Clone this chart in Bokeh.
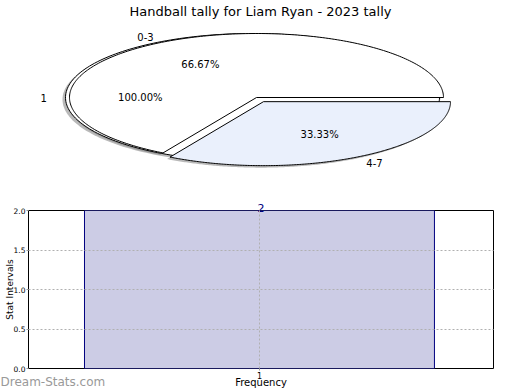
import numpy as np
from bokeh.plotting import figure
from bokeh.layouts import column
from bokeh.models import Range1d, FixedTicker, Title, Label, PrintfTickFormatter
from bokeh.core.properties import value
from bokeh.embed import file_html
from bokeh.resources import INLINE

# ---------------- data ----------------
chart_title = "Handball tally for Liam Ryan - 2023 tally"
outer_labels = ["1"]
outer_values = [1]
inner_labels = ["0-3", "4-7"]
inner_values = [2, 1]
bar_categories = [1]
bar_values = [2]
bar_value_labels = ["2"]
y_ticks = [0.0, 0.5, 1.0, 1.5, 2.0]
x_ticks = [1]
watermark = "Dream-Stats.com"

# ---------------- style ----------------
FONT = "DejaVu Sans"
W = 520
H_TOP = 178
H_BOT = 212
LEFT, RIGHT = 28, 27
outer_colors = ["#ffffff"]
inner_colors = ["#ffffff", "#eaf0fc"]
outer_explode = [0.0]
inner_explode = [0.0, 0.075]

# ---------------- pie figure (pixel-like coordinates, y grows downward) ----------------
pie = figure(width=W, height=H_TOP, x_range=Range1d(LEFT, W - RIGHT), y_range=Range1d(H_TOP, 0),
             output_backend="svg", toolbar_location=None,
             min_border_left=LEFT, min_border_right=RIGHT, min_border_top=0, min_border_bottom=0,
             x_axis_location=None, y_axis_location=None)
pie.grid.visible = False
pie.outline_line_color = None

RX, RY = 187.0, 64.0
SHADOW_DX, SHADOW_DY = -3.0, 2.0


def wedges(cx, cy, values, explode):
    total = float(sum(values))
    start = 0.0
    out = []
    for v, ex in zip(values, explode):
        frac = v / total
        a0, a1 = start, start + 2 * np.pi * frac
        start = a1
        mid = 0.5 * (a0 + a1)
        ox = cx + ex * RX * np.cos(mid)
        oy = cy - ex * RY * np.sin(mid)
        th = np.linspace(a0, a1, 240)
        xs = ox + RX * np.cos(th)
        ys = oy - RY * np.sin(th)
        if frac < 0.9999:
            xs = np.concatenate([[ox], xs])
            ys = np.concatenate([[oy], ys])
        out.append((xs, ys, ox, oy, mid, frac))
    return out


outer = wedges(252.0, 97.0, outer_values, outer_explode)
inner = wedges(256.0, 97.0, inner_values, inner_explode)

for xs, ys, *_ in outer + inner:
    pie.patch(xs + SHADOW_DX, ys + SHADOW_DY, fill_color="#7f7f7f", fill_alpha=0.55,
              line_color=None)

for (xs, ys, ox, oy, mid, frac), col in zip(outer, outer_colors):
    pie.patch(xs, ys, fill_color=col, line_color="black", line_width=1)
for (xs, ys, ox, oy, mid, frac), col in zip(inner, inner_colors):
    pie.patch(xs, ys, fill_color=col, line_color="black", line_width=1)


def pie_texts(ws, labels):
    for (xs, ys, ox, oy, mid, frac), lab in zip(ws, labels):
        lx = ox + 1.1 * RX * np.cos(mid)
        ly = oy - 1.1 * RY * np.sin(mid)
        align = "left" if np.cos(mid) > 0 else "right"
        pie.text(x=[lx], y=[ly], text=[lab], text_font=value(FONT), text_font_size="10px",
                 text_align=align, text_baseline="middle", text_color="black")
        px = ox + 0.6 * RX * np.cos(mid)
        py = oy - 0.6 * RY * np.sin(mid)
        pie.text(x=[px], y=[py], text=["%.2f%%" % (frac * 100)], text_font=value(FONT),
                 text_font_size="10px", text_align="center", text_baseline="middle",
                 text_color="black")


pie_texts(outer, outer_labels)
pie_texts(inner, inner_labels)

pie.text(x=[W / 2], y=[11], text=[chart_title], text_font=value(FONT), text_font_size="13px",
         text_align="center", text_baseline="middle", text_color="black")

# ---------------- bar figure ----------------
bar = figure(width=W, height=H_BOT, x_range=Range1d(0.472, 1.535), y_range=Range1d(0, 2),
             output_backend="svg", toolbar_location=None,
             min_border_left=LEFT, min_border_right=RIGHT, min_border_top=32, min_border_bottom=21)
bar.vbar(x=bar_categories, top=bar_values, width=0.8, fill_color="#ccccE5",
         line_color="#000080", line_width=1)

bar.outline_line_color = "black"
bar.outline_line_width = 1

for g in (bar.xgrid, bar.ygrid):
    g.grid_line_color = "#b0b0b0"
    g.grid_line_dash = "2 2"
    g.level = "overlay"
bar.ygrid.ticker = FixedTicker(ticks=y_ticks)
bar.xgrid.ticker = FixedTicker(ticks=x_ticks)

bar.yaxis.ticker = FixedTicker(ticks=y_ticks)
bar.yaxis.formatter = PrintfTickFormatter(format="%.1f")
bar.xaxis.ticker = FixedTicker(ticks=x_ticks)
for ax in (bar.xaxis, bar.yaxis):
    ax.axis_line_color = None
    ax.major_tick_in = 0
    ax.major_tick_out = 2
    ax.major_tick_line_color = "#999999"
    ax.minor_tick_line_color = None
    ax.major_label_text_font = FONT
    ax.major_label_text_font_size = "8px"
    ax.major_label_text_color = "black"
    ax.major_label_standoff = 1
    ax.axis_label_text_font = FONT
    ax.axis_label_text_font_style = "normal"
    ax.axis_label_text_color = "black"

bar.yaxis.major_label_text_font_size = "7.5px"
bar.yaxis.axis_label = "Stat Intervals"
bar.yaxis.axis_label_text_font_size = "9px"
bar.yaxis.axis_label_standoff = -4
bar.xaxis.axis_label = "Frequency"
bar.xaxis.axis_label_text_font_size = "10px"
bar.xaxis.axis_label_standoff = -5

# value label on top of the bar
for lab in bar_value_labels:
    bar.add_layout(Title(text=lab, align="center", text_font=FONT, text_font_size="11px",
                         text_font_style="normal", text_color="#000080", standoff=-2), "above")

# watermark in the bottom-left corner (hosted by a side panel so it is not clipped)
bar.add_layout(Label(x=-LEFT, y=-179, x_units="screen", y_units="screen", text=watermark,
                     text_align="left", text_baseline="middle", text_font=FONT,
                     text_font_size="12px", text_color="#999999"), "above")

layout = column(pie, bar, spacing=0)
open("out.html", "w").write(file_html(layout, INLINE))
